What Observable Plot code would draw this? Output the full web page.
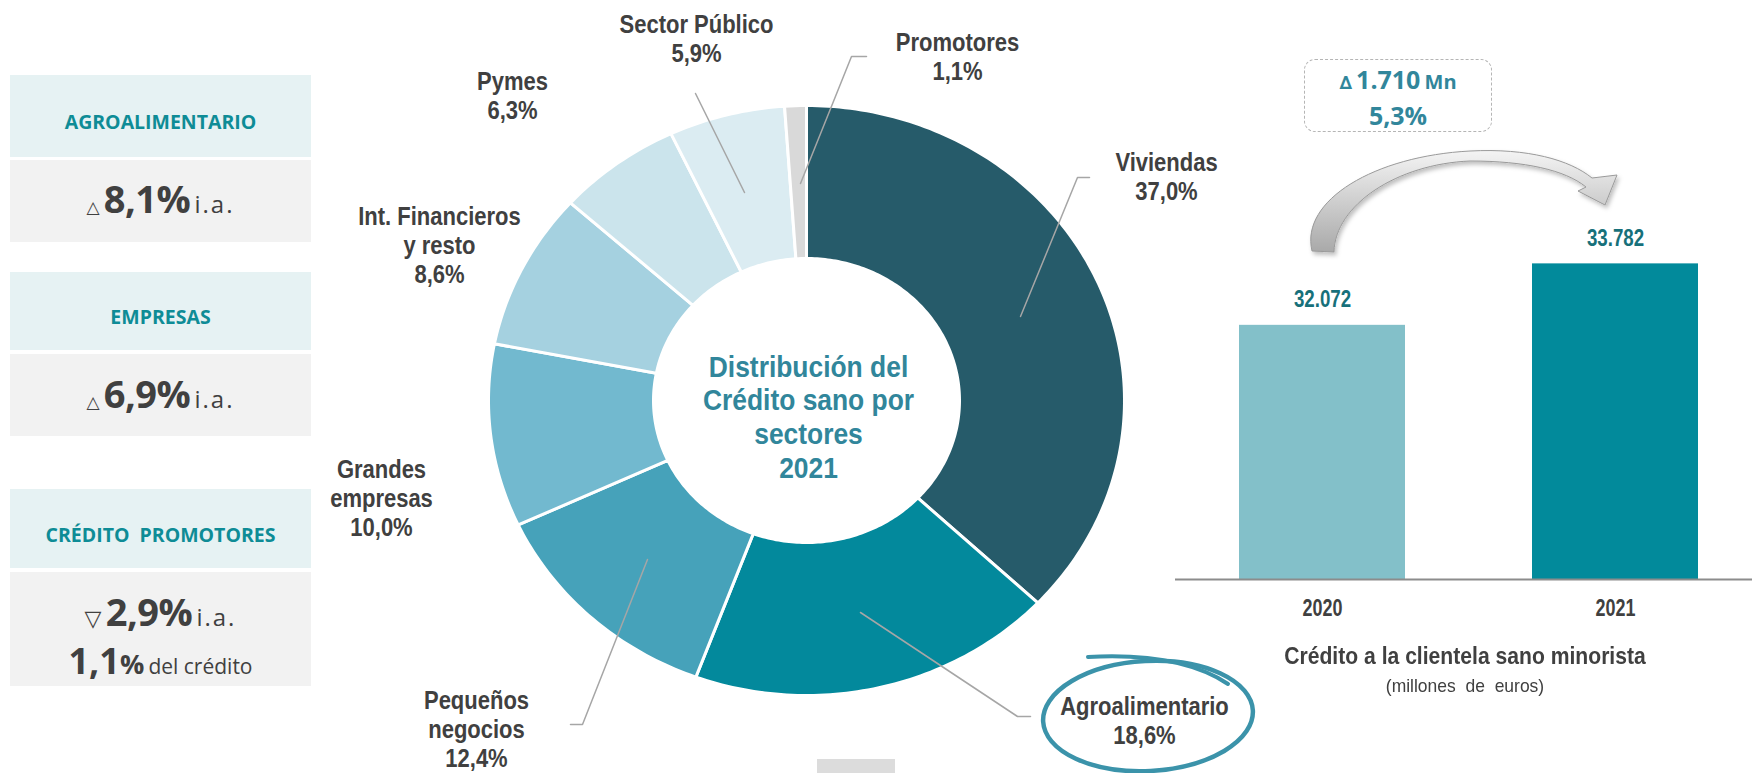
<!DOCTYPE html>
<html><head><meta charset="utf-8">
<script src="https://cdn.jsdelivr.net/npm/d3@7"></script>
<script src="https://cdn.jsdelivr.net/npm/@observablehq/plot@0.6"></script>
<style>
body{margin:0;background:#fff;}
#root{position:relative;width:1752px;height:773px;overflow:hidden;background:#fff;font-family:"Open Sans",sans-serif;}
.abs{position:absolute;}
.kbox{position:absolute;left:10px;width:301px;}
.hdr{background:#e6f2f3;}
.val{background:#f2f2f2;}
.kline{position:absolute;left:10px;width:301px;height:50px;line-height:50px;text-align:center;white-space:nowrap;color:#404040;}
.khead{color:#0e8c96;font-weight:700;font-size:19.5px;}
.cond{font-family:"Liberation Sans",Arial,sans-serif;font-weight:700;color:#404040;text-align:center;white-space:nowrap;transform-origin:center center;}
</style></head><body><div id="root"></div>
<script>
// ---------------- DATA ----------------
const sectors = ["Viviendas", "Agroalimentario", "Pequeños negocios", "Grandes empresas", "Int. Financieros y resto", "Pymes", "Sector Público", "Promotores"];
const shares = [37.0, 18.6, 12.4, 10.0, 8.6, 6.3, 5.9, 1.1];
const sectorColors = ["#265b6a", "#03899c", "#46a2ba", "#72b9cf", "#a5d1e0", "#cbe4ec", "#dbecf2", "#d9d9d9"];
const years = ["2020", "2021"];
const credit = [32072, 33782];
const barColors = ["#83c0c9", "#028a9b"];
const kpiTitles = ["AGROALIMENTARIO", "EMPRESAS", "CRÉDITO  PROMOTORES"];
const kpiChanges = [8.1, 6.9, -2.9];
const promotoresShare = 1.1;
const deltaMn = 1710;
const deltaPct = 5.3;
const centerTitle = "Distribución del\nCrédito sano por\nsectores\n2021";
const barTitle = "Crédito a la clientela sano minorista";
const barSubtitle = "(millones  de  euros)";

// ---------------- helpers ----------------
const fmt1 = v => d3.format(".1f")(v).replace(".", ",");
const fmtK = v => d3.format(",")(v).replace(/,/g, ".");
const root = document.getElementById("root");
function el(tag, cls, style, html) {
  const e = document.createElement(tag);
  if (cls) e.className = cls;
  Object.assign(e.style, style || {});
  if (html != null) e.innerHTML = html;
  root.appendChild(e);
  return e;
}
// horizontally condense every text of an svg around its anchor
function condense(svg, s) {
  d3.select(svg).selectAll("text").each(function () {
    const tr = this.getAttribute("transform");
    if (tr) {
      this.setAttribute("transform", `${tr} scale(${s},1)`);
    } else {
      const xa = this.getAttribute("x");
      const x = xa !== null && !isNaN(+xa) ? +xa : 0;
      this.setAttribute("transform", `translate(${x},0) scale(${s},1)`);
      if (xa !== null && !isNaN(+xa)) this.removeAttribute("x");
    }
  });
}

// ---------------- KPI boxes (left) ----------------
const kpiLayout = [
  {h: [75, 157], v: [160, 242], t: 122, l1: 200},
  {h: [272, 350], v: [354, 436], t: 317, l1: 395},
  {h: [489, 568], v: [572, 686], t: 535, l1: 613, l2: 663}
];
kpiTitles.forEach((title, i) => {
  const L = kpiLayout[i];
  el("div", "kbox hdr", {top: L.h[0] + "px", height: (L.h[1] - L.h[0]) + "px"});
  el("div", "kbox val", {top: L.v[0] + "px", height: (L.v[1] - L.v[0]) + "px"});
  el("div", "kline khead", {top: (L.t - 25) + "px", whiteSpace: "pre"}, title);
  const ch = kpiChanges[i];
  const tri = ch >= 0 ? "△" : "▽";
  el("div", "kline", {top: (L.l1 - 27) + "px"},
    `<span style="font-size:${ch >= 0 ? 17 : 22}px;font-family:'DejaVu Sans',sans-serif;">${tri}</span> ` +
    `<span style="font-size:38px;font-weight:700;letter-spacing:-0.5px">${fmt1(Math.abs(ch))}%</span> ` +
    `<span style="font-size:24px;letter-spacing:2px">i.a.</span>`);
  if (L.l2) {
    el("div", "kline", {top: (L.l2 - 27) + "px"},
      `<span style="font-size:36px;font-weight:700">${fmt1(promotoresShare)}</span>` +
      `<span style="font-size:27px;font-weight:700">%</span> ` +
      `<span style="font-size:21px">del crédito</span>`);
  }
});

// ---------------- Donut (slightly flattened ring) ----------------
const RX = 318, RY = 295, rx0 = 153, ry0 = 142;
const arcs = d3.pie().sort(null).value(d => d)(shares);
const slicePts = [];
arcs.forEach((a, i) => {
  const n = Math.max(2, Math.ceil((a.endAngle - a.startAngle) / (Math.PI / 180)));
  for (let k = 0; k <= n; k++) {
    const t = a.startAngle + (a.endAngle - a.startAngle) * k / n;
    slicePts.push({name: sectors[i], color: sectorColors[i], x: RX * Math.sin(t), y: -RY * Math.cos(t)});
  }
  for (let k = n; k >= 0; k--) {
    const t = a.startAngle + (a.endAngle - a.startAngle) * k / n;
    slicePts.push({name: sectors[i], color: sectorColors[i], x: rx0 * Math.sin(t), y: -ry0 * Math.cos(t)});
  }
});
// label layout (offsets from donut centre, in px)
const labelPos = {
  "Viviendas": [360, -224],
  "Agroalimentario": [338, 320],
  "Pequeños negocios": [-330, 328],
  "Grandes empresas": [-425, 97],
  "Int. Financieros y resto": [-367, -156],
  "Pymes": [-294, -305],
  "Sector Público": [-110, -362],
  "Promotores": [151, -344]
};
const labelBreak = {
  "Pequeños negocios": "Pequeños\nnegocios",
  "Grandes empresas": "Grandes\nempresas",
  "Int. Financieros y resto": "Int. Financieros\ny resto"
};
const labels = sectors.map((s, i) => ({
  text: (labelBreak[s] || s) + "\n" + fmt1(shares[i]) + "%",
  x: labelPos[s][0], y: labelPos[s][1]
}));
const leaderLayout = {
  "Sector Público": [[-111, -307], [-62, -208]],
  "Promotores": [[60, -344], [45, -344], [-6, -217]],
  "Viviendas": [[283, -223], [271, -223], [214, -84]],
  "Agroalimentario": [[54, 212], [211, 316], [224, 316]],
  "Pequeños negocios": [[-159, 159], [-224, 324], [-236, 324]]
};
const leaderPts = Object.entries(leaderLayout).flatMap(([name, pts]) => pts.map(([x, y]) => ({name, x, y})));

const donut = Plot.plot({
  width: 980, height: 773, margin: 0,
  x: {domain: [-490, 490], range: [0, 980], axis: null},
  y: {domain: [-400, 373], range: [0, 773], axis: null},
  color: {type: "identity"},
  style: {background: "transparent", overflow: "visible", fontFamily: "'Liberation Sans', Arial, sans-serif"},
  marks: [
    Plot.line(slicePts, {x: "x", y: "y", z: "name", fill: "color", stroke: "#ffffff", strokeWidth: 3, curve: "linear-closed", strokeLinejoin: "round"}),
    Plot.line(leaderPts, {x: "x", y: "y", z: "name", stroke: "#a6a6a6", strokeWidth: 1.5}),
    Plot.text(labels, {x: "x", y: "y", text: "text", fontSize: 25, fontWeight: "bold", fill: "#404040", lineHeight: 1.16}),
    Plot.text([centerTitle], {x: () => 2, y: () => 16, text: d => d, fontSize: 30, fontWeight: "bold", fill: "#31869b", lineHeight: 1.13})
  ]
});
condense(donut, 0.88);
donut.style.position = "absolute";
donut.style.left = "316px";
donut.style.top = "0px";
root.appendChild(donut);

// ---------------- Bar chart ----------------
const barData = years.map((y, i) => ({year: y, value: credit[i], color: barColors[i]}));
const bars = Plot.plot({
  width: 587, height: 773,
  marginLeft: 0, marginRight: 0, marginTop: 0, marginBottom: 194,
  x: {domain: years, paddingInner: 0.4334, paddingOuter: 0.2184, tickSize: 0, tickPadding: 20, label: null},
  y: {domain: [25000, 41110], axis: null},
  color: {type: "identity"},
  style: {background: "transparent", fontSize: "23px", fontWeight: "bold", color: "#404040", fontFamily: "'Liberation Sans', Arial, sans-serif"},
  marks: [
    Plot.barY(barData, {x: "year", y1: () => 25000, y2: "value", fill: "color"}),
    Plot.ruleY([25000], {stroke: "#8c8c8c", strokeWidth: 2}),
    Plot.text(barData, {x: "year", y: "value", text: d => fmtK(d.value), dy: -26, fill: "#17707a", fontSize: 24, fontWeight: "bold"})
  ]
});
condense(bars, 0.78);
bars.style.position = "absolute";
bars.style.left = "1175px";
bars.style.top = "0px";
root.appendChild(bars);

// titles under bar chart
el("div", "abs cond", {left: "1165px", width: "600px", top: "642px", fontSize: "24px", lineHeight: "28px", transform: "scaleX(0.88)"}, barTitle);
el("div", "abs cond", {left: "1165px", width: "600px", top: "674px", fontSize: "19px", lineHeight: "24px", fontWeight: "400", transform: "scaleX(0.92)", whiteSpace: "pre"}, barSubtitle);

// delta box
el("div", "abs", {left: "1304px", top: "59px", width: "186px", height: "71px", border: "1.3px dashed #b5b5b5", borderRadius: "11px"});
el("div", "abs", {left: "1304px", top: "63px", width: "188px", textAlign: "center", color: "#31869b", fontWeight: "700", lineHeight: "32px"},
  `<span style="font-size:18px;font-family:'DejaVu Sans',sans-serif">∆</span> <span style="font-size:25px">${fmtK(deltaMn)}</span> <span style="font-size:20px">Mn</span><br><span style="font-size:25px">${fmt1(deltaPct)}%</span>`);

// ---------------- decorations (arrow, ellipse, small grey block) ----------------
const deco = d3.select(root).append("svg")
  .attr("width", 1752).attr("height", 773)
  .style("position", "absolute").style("left", 0).style("top", 0).style("pointer-events", "none");
const defs = deco.append("defs");
const g = defs.append("linearGradient").attr("id", "arrowGrad").attr("x1", 0).attr("y1", 0).attr("x2", 0).attr("y2", 1);
g.append("stop").attr("offset", "0%").attr("stop-color", "#f4f4f4");
g.append("stop").attr("offset", "100%").attr("stop-color", "#a9a9a9");
const f = defs.append("filter").attr("id", "sh").attr("x", "-20%").attr("y", "-20%").attr("width", "140%").attr("height", "140%");
f.append("feDropShadow").attr("dx", 2).attr("dy", 3).attr("stdDeviation", 2).attr("flood-color", "#000").attr("flood-opacity", 0.25);
deco.append("path")
  .attr("d", "M1312,251 C1300,200 1375,156 1470,151 C1528,148 1570,160 1592,178 L1617,175 L1605,205 L1578,191 L1586,187 C1565,170 1525,161 1470,161 C1397,164 1335,205 1334,252 Z")
  .attr("fill", "url(#arrowGrad)").attr("stroke", "#9a9a9a").attr("stroke-width", 1).attr("filter", "url(#sh)");
deco.append("ellipse")
  .attr("cx", 1148).attr("cy", 716).attr("rx", 105).attr("ry", 55)
  .attr("transform", "rotate(-3 1148 716)")
  .attr("fill", "none").attr("stroke", "#3b93aa").attr("stroke-width", 4.5);
deco.append("path")
  .attr("d", "M1088,657 Q1180,652 1228,684")
  .attr("fill", "none").attr("stroke", "#3b93aa").attr("stroke-width", 4).attr("stroke-linecap", "round");
deco.append("rect").attr("x", 817).attr("y", 759).attr("width", 78).attr("height", 14).attr("fill", "#dcdcdc");
</script>
</body></html>
